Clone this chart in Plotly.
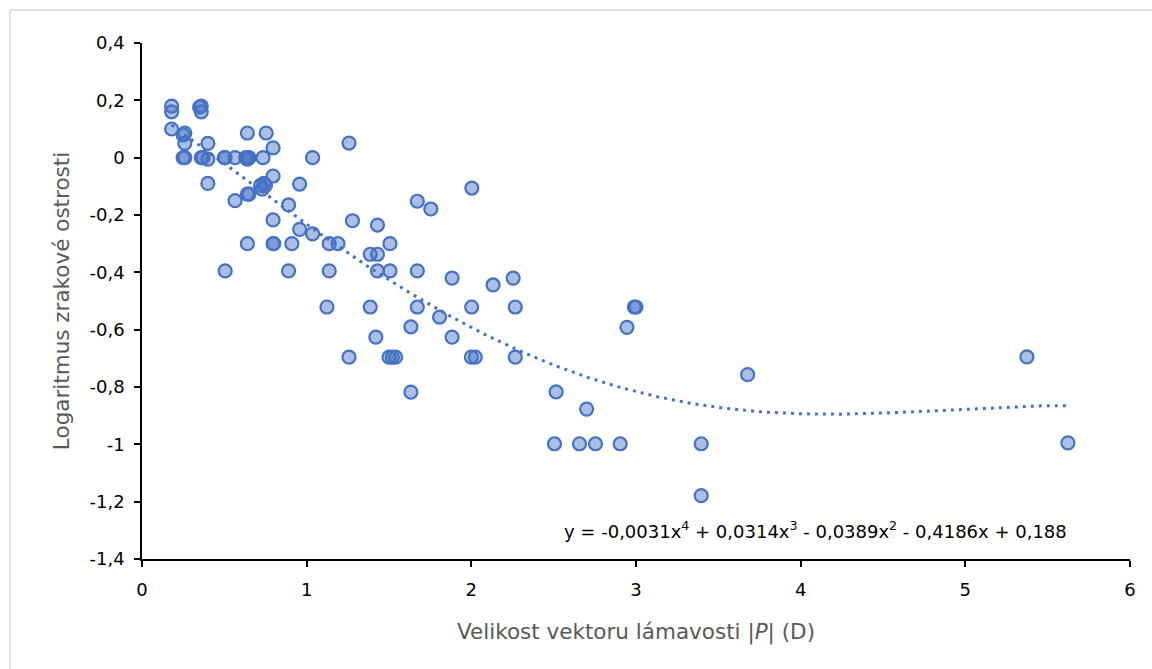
import numpy as np
import plotly.graph_objects as go

# Data
refraction_x = [
    0.18, 0.18, 0.18, 0.36, 0.35, 0.36, 0.26, 0.25, 0.26, 0.26, 0.25, 0.36, 0.37,
    0.40, 0.40, 0.40, 0.505, 0.50, 0.565, 0.565, 0.64, 0.64, 0.63, 0.65, 0.64,
    0.64, 0.65, 0.64, 0.505, 0.735, 0.74, 0.72, 0.75, 0.73, 0.754, 0.796, 0.796,
    0.796, 0.796, 0.80, 0.89, 0.89, 0.91, 0.957, 0.957, 1.036, 1.036, 1.123,
    1.137, 1.137, 1.19, 1.257, 1.257, 1.278, 1.386, 1.386, 1.43, 1.43, 1.43,
    1.42, 1.506, 1.506, 1.50, 1.52, 1.54, 1.633, 1.633, 1.672, 1.672, 1.672,
    1.754, 1.807, 1.883, 1.883, 2.003, 2.002, 2.00, 2.024, 2.132, 2.254, 2.267,
    2.267, 2.515, 2.505, 2.657, 2.70, 2.754, 2.904, 2.945, 3.00, 2.99, 3.396,
    3.396, 3.678, 5.374, 5.623,
]
log_acuity = [
    0.18, 0.16, 0.10, 0.18, 0.176, 0.16, 0.086, 0.079, 0.05, 0.0, 0.0, 0.0, 0.0,
    0.05, -0.005, -0.09, 0.0, 0.0, 0.0, -0.15, 0.086, 0.0, 0.0, 0.0, -0.005,
    -0.127, -0.127, -0.30, -0.395, 0.0, -0.09, -0.097, -0.097, -0.11, 0.086,
    0.034, -0.064, -0.217, -0.30, -0.30, -0.165, -0.395, -0.30, -0.092, -0.25,
    0.0, -0.266, -0.521, -0.30, -0.395, -0.30, 0.051, -0.696, -0.22, -0.337,
    -0.521, -0.235, -0.337, -0.395, -0.626, -0.30, -0.395, -0.696, -0.696,
    -0.696, -0.59, -0.818, -0.152, -0.395, -0.521, -0.179, -0.556, -0.42,
    -0.626, -0.106, -0.521, -0.696, -0.696, -0.444, -0.42, -0.521, -0.696,
    -0.817, -0.998, -0.998, -0.877, -0.998, -0.998, -0.592, -0.521, -0.521,
    -0.998, -1.179, -0.757, -0.695, -0.995,
]

# 4th-degree polynomial trendline (fitted to the data, as in the source chart)
trend_degree = 4

x_tick_vals = [0, 1, 2, 3, 4, 5, 6]
x_tick_text = ["0", "1", "2", "3", "4", "5", "6"]
y_tick_vals = [0.4, 0.2, 0, -0.2, -0.4, -0.6, -0.8, -1.0, -1.2, -1.4]
y_tick_text = ["0,4", "0,2", "0", "-0,2", "-0,4", "-0,6", "-0,8", "-1", "-1,2", "-1,4"]

equation_text = "y = -0,0031x<sup>4</sup> + 0,0314x<sup>3</sup> - 0,0389x<sup>2</sup> - 0,4186x + 0,188"
x_title = "Velikost vektoru lámavosti |<i>P</i>| (D)"
y_title = "Logaritmus zrakové ostrosti"

FONT = "DejaVu Sans"
BLUE = "#4472C4"

coeffs = np.polyfit(refraction_x, log_acuity, trend_degree)
trend_x = np.linspace(min(refraction_x), max(refraction_x), 300)
trend_y = np.polyval(coeffs, trend_x)

fig = go.Figure()
fig.add_trace(go.Scatter(
    x=trend_x, y=trend_y, mode="lines",
    line=dict(color=BLUE, width=3, dash="3px,5px"),
    hoverinfo="skip", showlegend=False,
))
fig.add_trace(go.Scatter(
    x=refraction_x, y=log_acuity, mode="markers",
    marker=dict(size=13, color="rgba(68,114,196,0.45)",
                line=dict(color=BLUE, width=2.2)),
    showlegend=False,
))

fig.add_annotation(
    x=4.09, y=-1.298, xref="x", yref="y", text=equation_text,
    showarrow=False, font=dict(family=FONT, size=18, color="#000000"),
)
fig.add_annotation(
    x=0.5, y=-0.1415, xref="paper", yref="paper", text=x_title,
    showarrow=False, xanchor="center", yanchor="middle",
    font=dict(family=FONT, size=21.5, color="#595959"),
)

# chart border (left and top, light grey)
fig.add_shape(type="line", xref="paper", yref="paper",
              x0=-0.1336, x1=-0.1336, y0=1.064, y1=-0.3,
              line=dict(color="#D9D9D9", width=1.5))
fig.add_shape(type="line", xref="paper", yref="paper",
              x0=-0.1336, x1=1.1, y0=1.064, y1=1.064,
              line=dict(color="#D9D9D9", width=1.5))

fig.update_layout(
    width=1152, height=669,
    margin=dict(l=142, r=22, t=43, b=110),
    paper_bgcolor="white", plot_bgcolor="white",
    font=dict(family=FONT, size=18, color="#000000"),
    xaxis=dict(
        range=[0, 6], tickvals=x_tick_vals, ticktext=x_tick_text,
        showgrid=False, zeroline=False, showline=True,
        linecolor="#000000", linewidth=1.5, ticks="outside", ticklen=6,
        tickcolor="#000000", tickwidth=1.5, ticklabelstandoff=8,
        tickfont=dict(family=FONT, size=18, color="#000000"),
    ),
    yaxis=dict(
        range=[-1.4, 0.4], tickvals=y_tick_vals, ticktext=y_tick_text,
        showgrid=False, zeroline=False, showline=True,
        linecolor="#000000", linewidth=1.5, ticks="outside", ticklen=6,
        tickcolor="#000000", tickwidth=1.5, ticklabelstandoff=6,
        tickfont=dict(family=FONT, size=18, color="#000000"),
        title=dict(text=y_title,
                   font=dict(family=FONT, size=21.5, color="#595959"), standoff=14),
    ),
)

fig.write_html("out.html")
